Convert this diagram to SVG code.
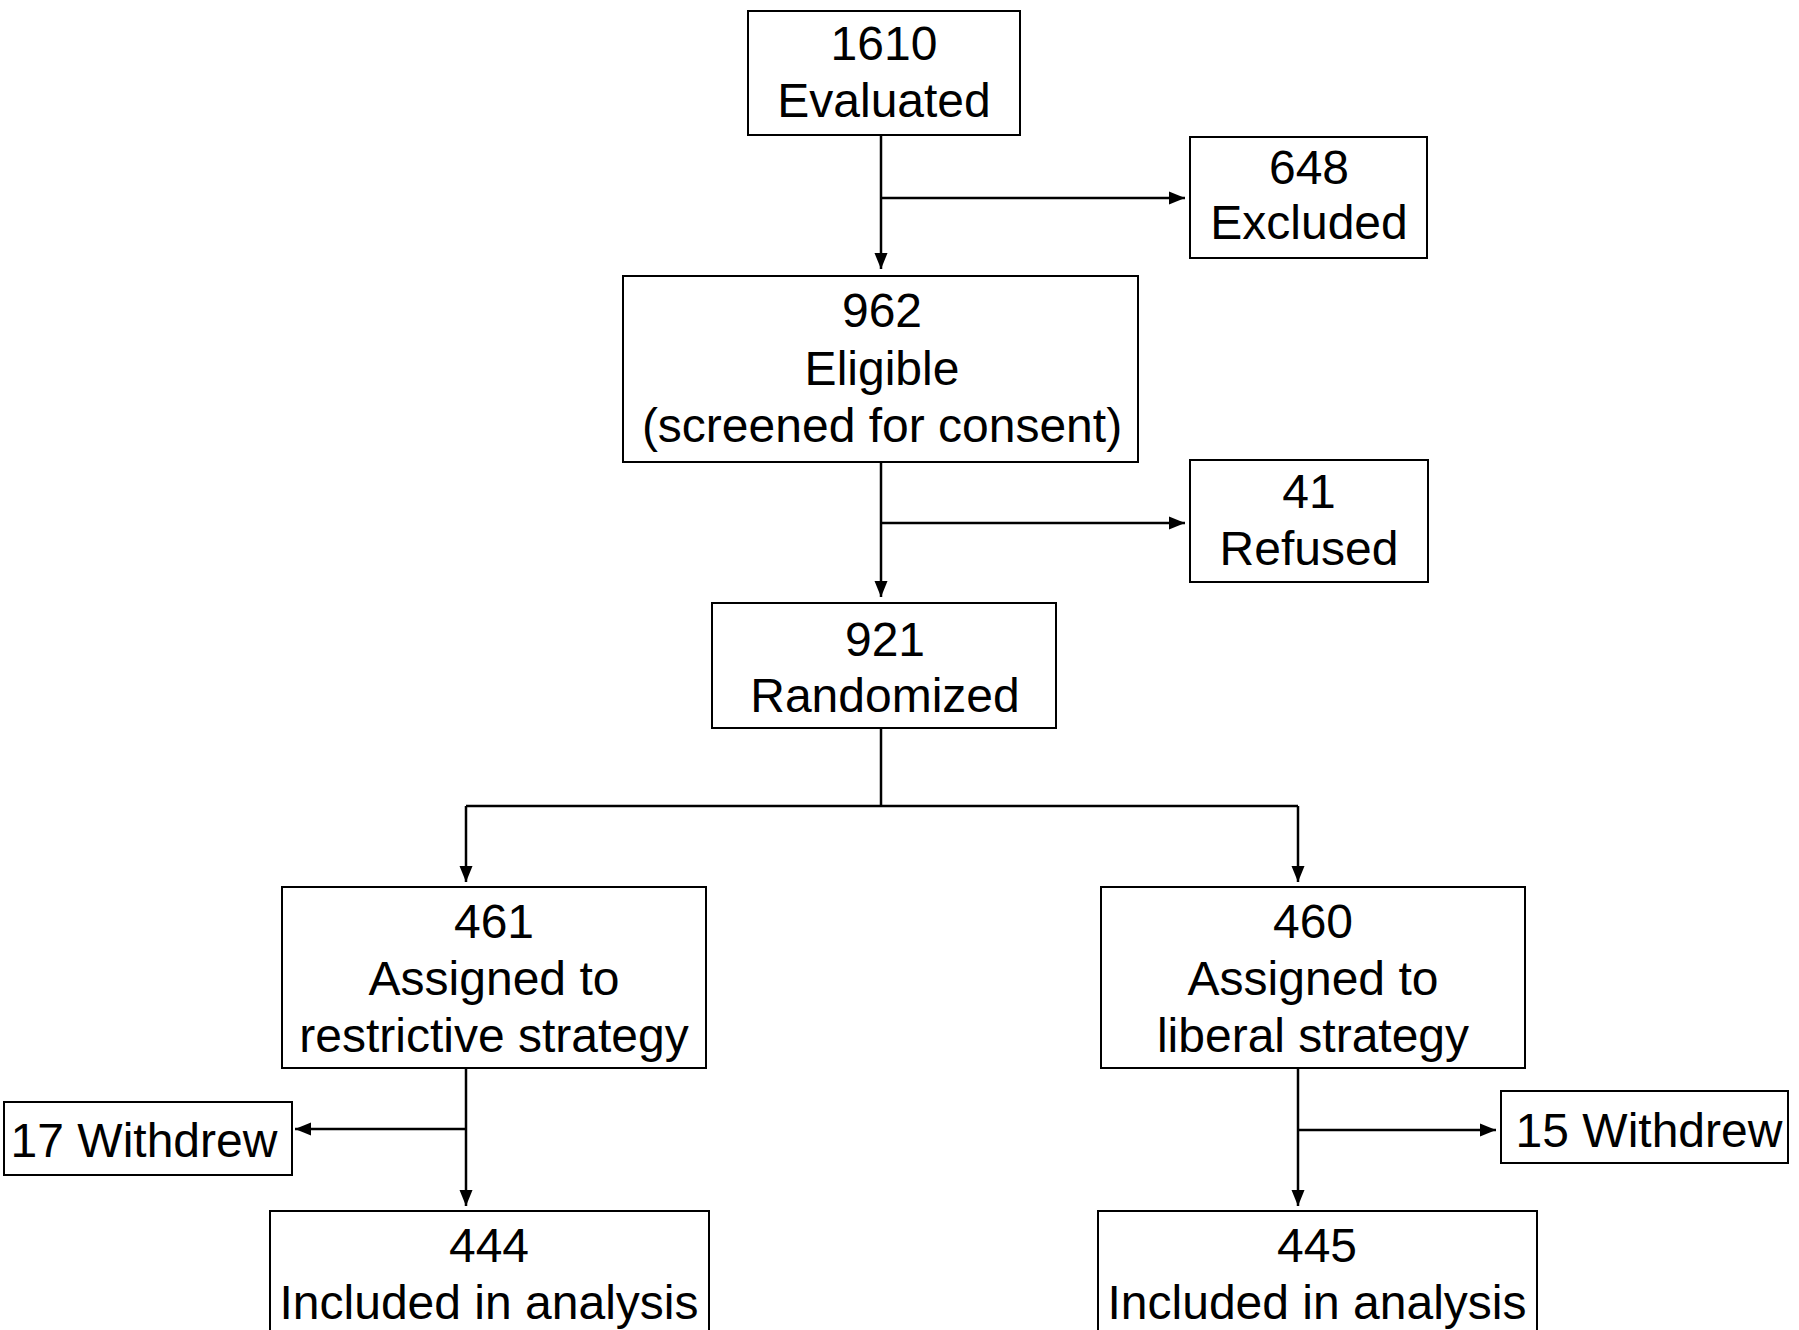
<svg xmlns="http://www.w3.org/2000/svg" width="1799" height="1330" viewBox="0 0 1799 1330">
<style>
.box{fill:#fff;stroke:#000;stroke-width:2}
.t{font-family:"Liberation Sans",Arial,sans-serif;font-size:48px;text-anchor:middle;fill:#000}
.c{fill:none;stroke:#000;stroke-width:2.5}
</style>
<defs>
<marker id="ah" markerUnits="userSpaceOnUse" markerWidth="17" markerHeight="15" refX="16" refY="7.5" orient="auto">
<path d="M0,1 L16,7.5 L0,14 z" fill="#000"/>
</marker>
</defs>
<rect width="1799" height="1330" fill="#fff"/>
<g id="connectors">
<line class="c" x1="881" y1="135" x2="881" y2="269" marker-end="url(#ah)"/>
<line class="c" x1="881" y1="198" x2="1185" y2="198" marker-end="url(#ah)"/>
<line class="c" x1="881" y1="462" x2="881" y2="597" marker-end="url(#ah)"/>
<line class="c" x1="881" y1="523" x2="1185" y2="523" marker-end="url(#ah)"/>
<line class="c" x1="881" y1="728" x2="881" y2="806"/>
<line class="c" x1="466" y1="806" x2="1298" y2="806"/>
<line class="c" x1="466" y1="806" x2="466" y2="882" marker-end="url(#ah)"/>
<line class="c" x1="1298" y1="806" x2="1298" y2="882" marker-end="url(#ah)"/>
<line class="c" x1="466" y1="1068" x2="466" y2="1206" marker-end="url(#ah)"/>
<line class="c" x1="466" y1="1129" x2="295" y2="1129" marker-end="url(#ah)"/>
<line class="c" x1="1298" y1="1068" x2="1298" y2="1206" marker-end="url(#ah)"/>
<line class="c" x1="1298" y1="1130" x2="1496" y2="1130" marker-end="url(#ah)"/>
</g>
<g id="n1610">
<rect class="box" x="748" y="11" width="272" height="124"/>
<text class="t" x="884" y="60">1610</text>
<text class="t" x="884" y="117">Evaluated</text>
</g>
<g id="n648">
<rect class="box" x="1190" y="137" width="237" height="121"/>
<text class="t" x="1309" y="184">648</text>
<text class="t" x="1309" y="239">Excluded</text>
</g>
<g id="n962">
<rect class="box" x="623" y="276" width="515" height="186"/>
<text class="t" x="882" y="327">962</text>
<text class="t" x="882" y="385">Eligible</text>
<text class="t" x="882" y="442">(screened for consent)</text>
</g>
<g id="n41">
<rect class="box" x="1190" y="460" width="238" height="122"/>
<text class="t" x="1309" y="508">41</text>
<text class="t" x="1309" y="565">Refused</text>
</g>
<g id="n921">
<rect class="box" x="712" y="603" width="344" height="125"/>
<text class="t" x="885" y="656">921</text>
<text class="t" x="885" y="712">Randomized</text>
</g>
<g id="n461">
<rect class="box" x="282" y="887" width="424" height="181"/>
<text class="t" x="494" y="938">461</text>
<text class="t" x="494" y="995">Assigned to</text>
<text class="t" x="494" y="1052">restrictive strategy</text>
</g>
<g id="n460">
<rect class="box" x="1101" y="887" width="424" height="181"/>
<text class="t" x="1313" y="938">460</text>
<text class="t" x="1313" y="995">Assigned to</text>
<text class="t" x="1313" y="1052">liberal strategy</text>
</g>
<g id="n17">
<rect class="box" x="4" y="1102" width="288" height="73"/>
<text class="t" x="144" y="1157">17 Withdrew</text>
</g>
<g id="n15">
<rect class="box" x="1501" y="1091" width="287" height="72"/>
<text class="t" x="1649" y="1147">15 Withdrew</text>
</g>
<g id="n444">
<rect class="box" x="270" y="1211" width="439" height="140"/>
<text class="t" x="489" y="1262">444</text>
<text class="t" x="489" y="1319">Included in analysis</text>
</g>
<g id="n445">
<rect class="box" x="1098" y="1211" width="439" height="140"/>
<text class="t" x="1317" y="1262">445</text>
<text class="t" x="1317" y="1319">Included in analysis</text>
</g>
</svg>
